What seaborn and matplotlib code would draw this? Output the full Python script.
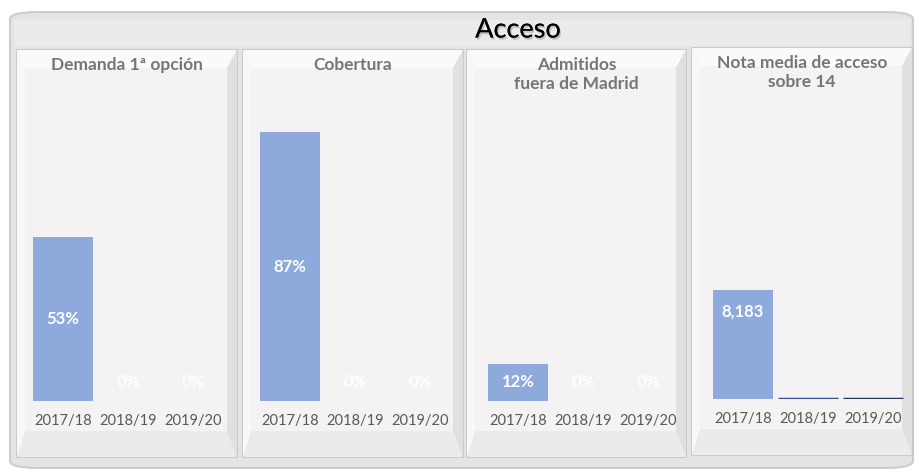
import matplotlib
matplotlib.use("Agg")
import matplotlib.pyplot as plt
import matplotlib.patheffects as pe
from matplotlib.patches import FancyBboxPatch, Rectangle, Polygon
import seaborn as sns
import pandas as pd

sns.set_theme(style="white")
plt.rcParams['font.family'] = ['Lato', 'DejaVu Sans']

years = ["2017/18", "2018/19", "2019/20"]
titles = ["Demanda 1ª opción", "Cobertura", "Admitidos\nfuera de Madrid", "Nota media de acceso\nsobre 14"]
demanda = [0.53, 0.0, 0.0]
cobertura = [0.87, 0.0, 0.0]
admitidos = [0.12, 0.0, 0.0]
nota = [8.183, 0.0, 0.0]
series = [demanda, cobertura, admitidos, nota]

W, H = 920, 476
fig = plt.figure(figsize=(W / 100, H / 100), dpi=100)
fig.patch.set_facecolor("white")


def fx(x):
    return x / W


def fy(y):
    return 1 - y / H


# outer rounded panel
outer = FancyBboxPatch((fx(10), fy(468)), fx(903), (468 - 12) / H,
                       boxstyle="round,pad=0,rounding_size=0.03",
                       transform=fig.transFigure, facecolor="#E4E4E4",
                       edgecolor="#CDCDCD", linewidth=1.5, zorder=0,
                       mutation_aspect=H / W)
fig.patches.append(outer)
fig.patches.append(Rectangle((fx(14), fy(46)), fx(896), 26 / H, transform=fig.transFigure,
                             facecolor="#EBEBEB", edgecolor="none", zorder=0.1))

# panels (left, top, right, bottom) in pixels
panels = [(17, 50, 237, 457), (243, 50, 463, 457), (467, 50, 686, 457), (692, 48, 912, 455)]
face = "#F4F2F3"
for (l, t, r, b) in panels:
    fig.patches.append(Rectangle((fx(l), fy(b)), fx(r - l), (b - t) / H, transform=fig.transFigure,
                                 facecolor="#E9E9E9", edgecolor="#C6C6C6", linewidth=1.2, zorder=0.5))
    bl, bt, br, bb = 8, 18, 10, 26
    # top bevel
    fig.patches.append(Polygon([(fx(l), fy(t)), (fx(r), fy(t)), (fx(r - br), fy(t + bt)), (fx(l + bl), fy(t + bt))],
                               closed=True, transform=fig.transFigure, facecolor="#FAFAFA",
                               edgecolor="none", zorder=0.6))
    # right bevel
    fig.patches.append(Polygon([(fx(r), fy(t)), (fx(r), fy(b)), (fx(r - br), fy(b - bb)), (fx(r - br), fy(t + bt))],
                               closed=True, transform=fig.transFigure, facecolor="#E0E0E0",
                               edgecolor="none", zorder=0.6))
    # bottom bevel
    fig.patches.append(Polygon([(fx(l), fy(b)), (fx(r), fy(b)), (fx(r - br), fy(b - bb)), (fx(l + bl), fy(b - bb))],
                               closed=True, transform=fig.transFigure, facecolor="#EBEBEB",
                               edgecolor="none", zorder=0.6))
    # left bevel
    fig.patches.append(Polygon([(fx(l), fy(t)), (fx(l), fy(b)), (fx(l + bl), fy(b - bb)), (fx(l + bl), fy(t + bt))],
                               closed=True, transform=fig.transFigure, facecolor="#F8F8F8",
                               edgecolor="none", zorder=0.6))
    fig.patches.append(Rectangle((fx(l + bl), fy(b - bb)), fx(r - br - l - bl), (b - bb - t - bt) / H,
                                 transform=fig.transFigure, facecolor=face, edgecolor="none", zorder=0.7))

# axes: left px, baseline px, ylim top
axes_spec = [(30.5, 401, 1.0), (257.5, 401, 1.0), (485.5, 401, 1.0), (710.5, 399, 23.2)]
bar_blue = "#8EA9DB"
for i, (vals, (ax_l, base, ytop)) in enumerate(zip(series, axes_spec)):
    ax = fig.add_axes([fx(ax_l), 1 - base / H, fx(195), 309 / H])
    ax.set_zorder(5)
    df = pd.DataFrame({"year": years, "value": vals})
    sns.barplot(data=df, x="year", y="value", color=bar_blue, width=0.92,
                saturation=1, ax=ax, zorder=2, linewidth=0)
    ax.set_ylim(0, ytop)
    ax.set_xlim(-0.5, 2.5)
    ax.set_facecolor("none")
    ax.patch.set_alpha(0)
    for s in ax.spines.values():
        s.set_visible(False)
    ax.set_yticks([])
    ax.set_xlabel("")
    ax.set_ylabel("")
    ax.tick_params(axis="x", length=0, pad=9, labelsize=10.5, labelcolor="#595959")
    if i < 3:
        for j, v in enumerate(vals):
            ax.text(j, max(v / 2, 0.062), f"{v:.0%}", ha="center", va="center",
                    color="white", fontsize=12, fontweight="bold", zorder=3)
    else:
        navy = ["#8EA9DB", "#2F5597", "#1F3864"]
        for j, (p, v) in enumerate(zip(ax.patches, vals)):
            if v == 0:
                p.set_edgecolor(navy[j])
                p.set_linewidth(2.5)
            else:
                ax.text(j, v - 1.6, f"{v:.3f}".replace(".", ","), ha="center", va="center",
                        color="white", fontsize=12, fontweight="bold", zorder=3)

# panel titles
for (l, t, r, b), title in zip(panels, titles):
    fig.text(fx((l + r) / 2), fy(t + 7), title, ha="center", va="top", fontsize=12.5,
             fontweight="bold", color="#767676", linespacing=1.25, zorder=6)

fig.text(fx(518), fy(30), "Acceso", ha="center", va="center", fontsize=19.5, color="black",
         zorder=6,
         path_effects=[pe.withSimplePatchShadow(offset=(1, -1.5), shadow_rgbFace="#999999", alpha=0.5),
                       pe.Normal()])

fig.savefig("out.png", dpi=100)
